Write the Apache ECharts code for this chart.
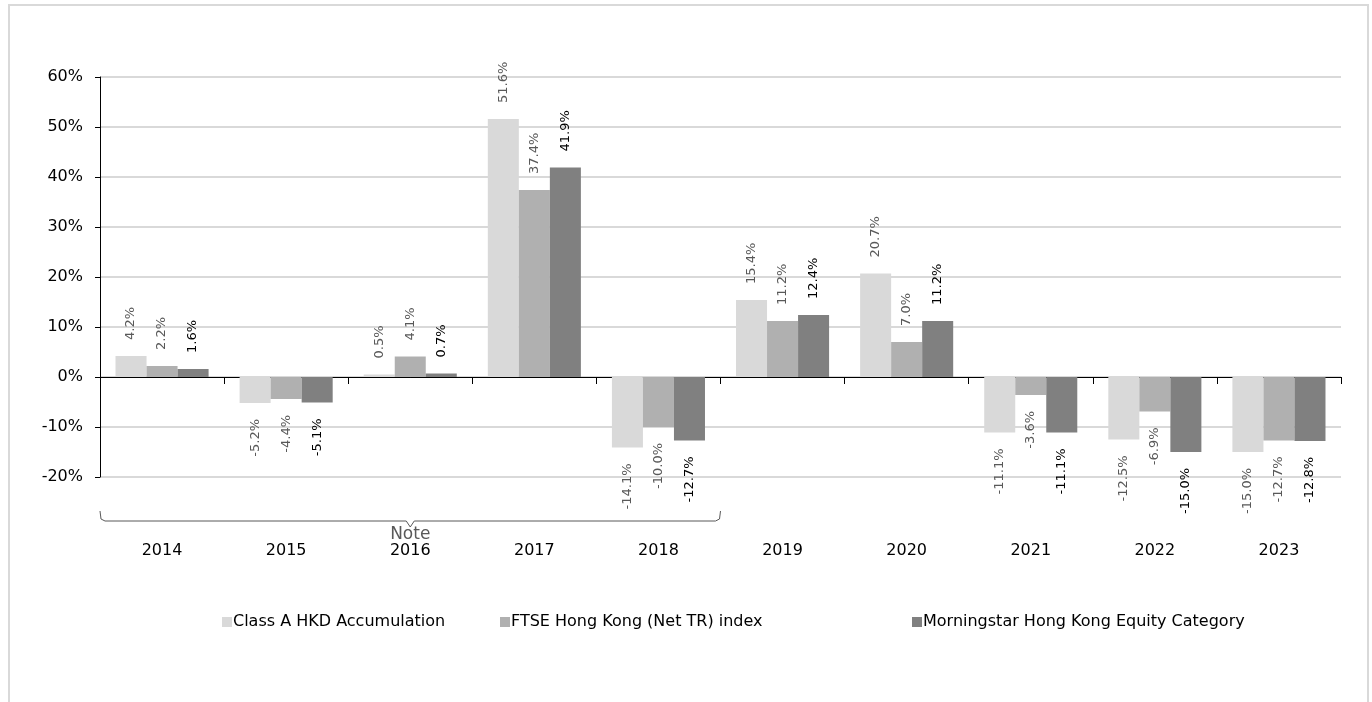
<!DOCTYPE html>
<html>
<head>
<meta charset="utf-8">
<script src="https://cdn.jsdelivr.net/npm/echarts@6/dist/echarts.min.js"></script>
<style>
html,body{margin:0;padding:0;background:#fff;}
#chart{width:1372px;height:702px;}
</style>
</head>
<body>
<div id="chart"></div>
<script>
const categories = ['2014','2015','2016','2017','2018','2019','2020','2021','2022','2023'];
const seriesNames = ['Class A HKD Accumulation','FTSE Hong Kong (Net TR) index','Morningstar Hong Kong Equity Category'];
const classA = [4.2, -5.2, 0.5, 51.6, -14.1, 15.4, 20.7, -11.1, -12.5, -15.0];
const ftse = [2.2, -4.4, 4.1, 37.4, -10.0, 11.2, 7.0, -3.6, -6.9, -12.7];
const morningstar = [1.6, -5.1, 0.7, 41.9, -12.7, 12.4, 11.2, -11.1, -15.0, -12.8];
const yTicks = {min: -20, max: 60, interval: 10};
const noteLabel = 'Note';
const noteRange = ['2014', '2018'];

const colors = ['#d9d9d9', '#b0b0b0', '#808080'];
const labelColors = ['#595959', '#595959', '#000000'];
const FONT = 'DejaVu Sans';

function makeData(arr) {
  return arr.map(v => ({
    value: v,
    label: v >= 0
      ? {position: 'top', align: 'left', verticalAlign: 'middle'}
      : {position: 'bottom', align: 'right', verticalAlign: 'middle'}
  }));
}

const chart = echarts.init(document.getElementById('chart'));
const allData = [classA, ftse, morningstar];

const option = {
  animation: false,
  backgroundColor: '#ffffff',
  textStyle: {fontFamily: FONT},
  grid: {left: 100, right: 31, top: 77, bottom: 225, containLabel: false},
  legend: seriesNames.map((n, i) => ({
    data: [n],
    left: [222, 500, 912][i],
    top: 614,
    padding: 0,
    itemWidth: 10, itemHeight: 10, itemGap: 0,
    icon: 'rect',
    textStyle: {fontFamily: FONT, fontSize: 16, color: '#000', padding: [0, 0, 0, -4]},
    selectedMode: false
  })),
  xAxis: [{
    type: 'category',
    data: categories,
    axisLine: {onZero: true, lineStyle: {color: '#000', width: 1}},
    axisTick: {show: true, length: 7, inside: false, lineStyle: {color: '#000'}},
    axisLabel: {show: false},
    splitLine: {show: false}
  }, {
    type: 'category',
    data: categories,
    position: 'bottom',
    axisLine: {show: false, onZero: false},
    axisTick: {show: false},
    axisLabel: {show: true, margin: 66, fontFamily: FONT, fontSize: 16, color: '#000'},
    splitLine: {show: false}
  }],
  yAxis: {
    type: 'value',
    min: yTicks.min, max: yTicks.max, interval: yTicks.interval,
    axisLine: {show: true, lineStyle: {color: '#000', width: 1}},
    axisTick: {show: true, length: 5, lineStyle: {color: '#000'}},
    axisLabel: {formatter: '{value}%', fontFamily: FONT, fontSize: 16, color: '#000', margin: 17},
    splitLine: {show: true, lineStyle: {color: '#d9d9d9', width: 2}}
  },
  series: allData.map((arr, i) => ({
    name: seriesNames[i],
    type: 'bar',
    xAxisIndex: 0,
    data: makeData(arr),
    barGap: '0%',
    barCategoryGap: '25%',
    itemStyle: {color: colors[i]},
    label: {
      show: true,
      rotate: 90,
      distance: 16,
      fontFamily: FONT,
      fontSize: 13,
      color: labelColors[i],
      formatter: p => p.value.toFixed(1) + '%'
    }
  }))
};
chart.setOption(option);

// Frame, bracket and note
const c0 = chart.convertToPixel({xAxisIndex: 0}, categories.indexOf(noteRange[0]));
const c1 = chart.convertToPixel({xAxisIndex: 0}, categories.indexOf(noteRange[1]));
const cw = chart.convertToPixel({xAxisIndex: 0}, 1) - chart.convertToPixel({xAxisIndex: 0}, 0);
const xL = c0 - cw / 2, xR = c1 + cw / 2, xM = (xL + xR) / 2;
const yB = chart.convertToPixel({yAxisIndex: 0}, yTicks.min);
const yLine = yB + 44;

chart.setOption({
  graphic: [
    {type: 'rect', silent: true, z: -1,
     shape: {x: 9, y: 5, width: 1359, height: 800},
     style: {fill: 'none', stroke: '#d9d9d9', lineWidth: 2}},
    {type: 'polyline', silent: true,
     shape: {points: [[xL, yLine - 10], [xL + 1, yLine - 2], [xL + 5, yLine],
                      [xM - 4, yLine], [xM, yLine + 6], [xM + 4, yLine],
                      [xR - 5, yLine], [xR - 1, yLine - 2], [xR, yLine - 10]]},
     style: {fill: 'none', stroke: '#595959', lineWidth: 1}},
    {type: 'text', silent: true,
     style: {x: xM, y: yLine + 14, text: noteLabel, align: 'center', verticalAlign: 'middle',
             font: '17px "DejaVu Sans"', fill: '#595959'}}
  ]
});
</script>
</body>
</html>
